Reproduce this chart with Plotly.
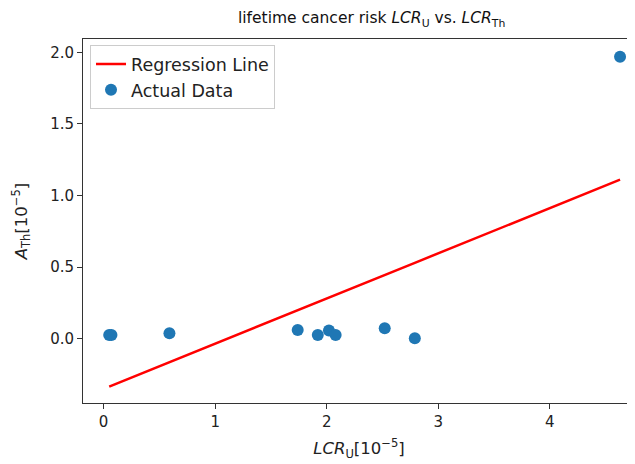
import numpy as np
import plotly.graph_objects as go

# Data
lcr_u = [0.05, 0.07, 0.59, 1.74, 1.92, 2.02, 2.08, 2.52, 2.79, 4.63]
a_th = [0.026, 0.026, 0.037, 0.060, 0.026, 0.056, 0.026, 0.072, 0.002, 1.97]

x_arr = np.array(lcr_u)
y_arr = np.array(a_th)
slope, intercept = np.polyfit(x_arr, y_arr, 1)
y_pred = slope * x_arr + intercept

FONT = "DejaVu Sans"

fig = go.Figure()
fig.add_trace(go.Scatter(
    x=lcr_u, y=y_pred.tolist(), mode="lines", name="Regression Line",
    line=dict(color="#ff0000", width=2.5),
))
fig.add_trace(go.Scatter(
    x=lcr_u, y=a_th, mode="markers", name="Actual Data",
    marker=dict(color="#1f77b4", size=12),
    cliponaxis=False,
))

# page has an 8px body margin, so the figure is sized / offset to compensate
fig.update_layout(
    width=627, height=456,
    margin=dict(l=75, r=0, t=31, b=61, autoexpand=False),
    paper_bgcolor="white", plot_bgcolor="white",
    font=dict(family=FONT, size=15, color="#222"),
    title=dict(
        text="lifetime cancer risk <i>LCR</i><sub>U</sub> vs. <i>LCR</i><sub>Th</sub>",
        x=0.58, xanchor="center", y=0.978, yanchor="middle",
        font=dict(family=FONT, size=15.5, color="#111"),
    ),
    showlegend=True,
    legend=dict(
        x=0.0127, y=0.983, xanchor="left", yanchor="top",
        bgcolor="rgba(255,255,255,0.8)", bordercolor="#cccccc", borderwidth=1,
        font=dict(family=FONT, size=17.5, color="#222"),
        tracegroupgap=0,
    ),
)

fig.update_xaxes(
    range=[-0.185, 4.764], tickmode="array", tickvals=[0, 1, 2, 3, 4],
    ticktext=["0", "1", "2", "3", "4"],
    showgrid=False, zeroline=False, automargin=False,
    showline=True, linecolor="#333", linewidth=1, mirror=True,
    ticks="outside", ticklen=5, tickcolor="#333",
    tickfont=dict(family=FONT, size=15, color="#222"),
    title=dict(text="<i>LCR</i><sub>U</sub>[10<sup>−5</sup>]", standoff=12,
               font=dict(family=FONT, size=16.5, color="#222")),
)
fig.update_yaxes(
    range=[-0.450, 2.094], tickmode="array", tickvals=[0, 0.5, 1.0, 1.5, 2.0],
    ticktext=["0.0", "0.5", "1.0", "1.5", "2.0"],
    showgrid=False, zeroline=False, automargin=False,
    showline=True, linecolor="#333", linewidth=1, mirror=False,
    ticks="outside", ticklen=5, tickcolor="#333",
    tickfont=dict(family=FONT, size=15, color="#222"),
    title=dict(text="<i>A</i><sub>Th</sub>[10<sup>−5</sup>]", standoff=18,
               font=dict(family=FONT, size=16.5, color="#222")),
)

fig.write_html("out.html")
